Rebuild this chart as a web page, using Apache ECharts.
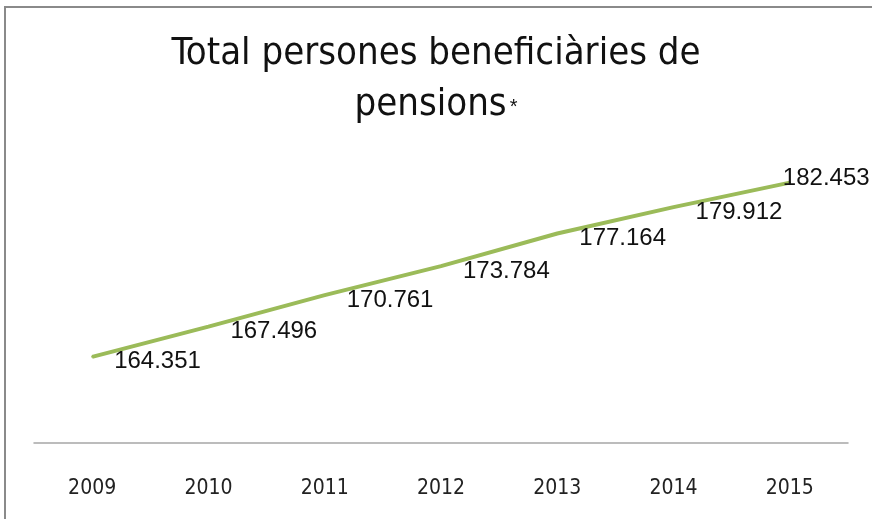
<!DOCTYPE html>
<html><head><meta charset="utf-8">
<script src="https://cdn.jsdelivr.net/npm/echarts@6/dist/echarts.min.js"></script>
<style>html,body{margin:0;padding:0;background:#fff}#c{width:872px;height:519px}</style>
</head><body><div id="c"></div>
<script>
const categories = ['2009','2010','2011','2012','2013','2014','2015'];
const beneficiaries = [164351, 167496, 170761, 173784, 177164, 179912, 182453];
const titleLine1 = 'Total persones beneficiàries de';
const titleLine2 = 'pensions';

function fmt(v){ return String(v).replace(/\B(?=(\d{3})+(?!\d))/g,'.'); }

const chart = echarts.init(document.getElementById('c'));
chart.setOption({
  animation:false,
  backgroundColor:'#fff',
  graphic:[{type:'rect',shape:{x:5,y:7,width:900,height:600},style:{fill:'none',stroke:'#8a8a8a',lineWidth:2},silent:true}],
  title:{
    text: titleLine1 + '\n' + '{m|' + titleLine2 + '}{s|*}',
    left:'center', top:24,
    textStyle:{fontFamily:'"Liberation Sans Narrow","DejaVu Sans Condensed",sans-serif',fontSize:38,fontWeight:'normal',color:'#111',lineHeight:51,
      rich:{m:{fontFamily:'"Liberation Sans Narrow","DejaVu Sans Condensed",sans-serif',fontSize:38,color:'#111',lineHeight:51},
            s:{fontFamily:'"Liberation Sans Narrow",sans-serif',fontSize:20,color:'#111',verticalAlign:'middle',lineHeight:51,padding:[4,0,0,3]}}}
  },
  grid:{left:34,right:24,top:110,bottom:76},
  xAxis:{type:'category',data:categories,boundaryGap:true,
    axisLine:{lineStyle:{color:'#a6a6a6',width:1.5}},axisTick:{show:false},
    axisLabel:{margin:35,fontFamily:'"Liberation Sans Narrow","DejaVu Sans Condensed",sans-serif',fontSize:21,color:'#222'}},
  yAxis:{type:'value',min:155400,max:190000,show:false,splitLine:{show:false}},
  series:[{type:'line',
    data:beneficiaries.map((v,i)=>({value:v,label:{show:true,offset:i===beneficiaries.length-1?[-8,-4]:[21,5]}})),
    symbol:'circle',symbolSize:2,showSymbol:true,itemStyle:{color:'#9bbb59'},
    lineStyle:{color:'#9bbb59',width:4},
    label:{show:true,position:'right',distance:0,formatter:p=>fmt(p.value),
      fontFamily:'"Liberation Sans",Arial,sans-serif',fontSize:24,color:'#111'}}]
});
</script></body></html>
